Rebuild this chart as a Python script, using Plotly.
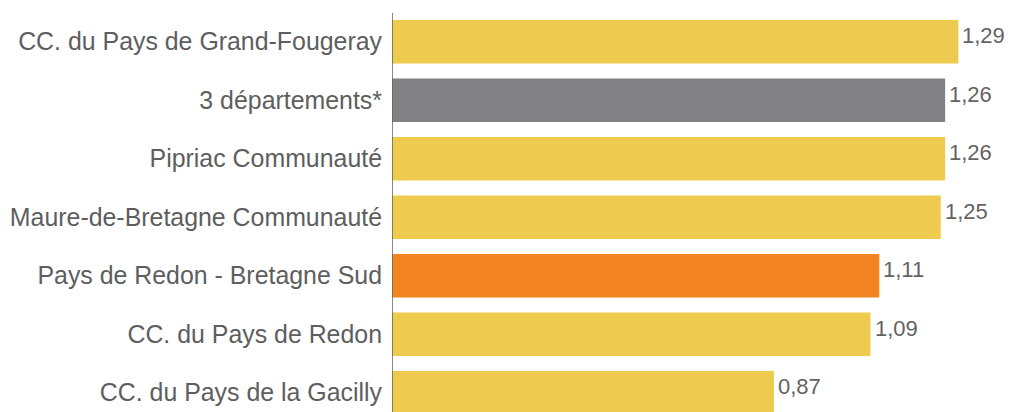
import plotly.graph_objects as go

categories = [
    "CC. du Pays de Grand-Fougeray",
    "3 départements*",
    "Pipriac Communauté",
    "Maure-de-Bretagne Communauté",
    "Pays de Redon - Bretagne Sud",
    "CC. du Pays de Redon",
    "CC. du Pays de la Gacilly",
]
values = [1.29, 1.26, 1.26, 1.25, 1.11, 1.09, 0.87]
value_labels = ["1,29", "1,26", "1,26", "1,25", "1,11", "1,09", "0,87"]
colors = ["#EECB4E", "#818184", "#EECB4E", "#EECB4E", "#F28522", "#EECB4E", "#EECB4E"]

FONT = "Liberation Sans, Arial, sans-serif"

# page body adds an 8px offset; size the figure for the visible window
OFF = 8
W, H = 1012 - OFF, 412 - OFF
PX_PER_UNIT = 439
CAT_STEP = 58.5
FIRST_CENTER = 41.75 - OFF

fig = go.Figure()
fig.add_trace(go.Bar(
    x=values, y=categories, orientation="h",
    marker=dict(color=colors, line=dict(width=0)),
    hoverinfo="skip",
))

for c, v, t in zip(categories, values, value_labels):
    fig.add_annotation(
        x=v, y=c, text=t, showarrow=False, xanchor="left", yanchor="middle",
        xshift=2, yshift=6, font=dict(family=FONT, size=22, color="#636363"),
    )

fig.add_shape(type="line", xref="x", yref="paper", x0=0, x1=0, y0=0, y1=(H - (13 - OFF)) / H,
              line=dict(color="#606060", width=1.5))

plot_w = W - (392 - OFF)
top = -FIRST_CENTER / CAT_STEP
bottom = (H - FIRST_CENTER) / CAT_STEP

fig.update_layout(
    width=W, height=H,
    margin=dict(l=392 - OFF, r=0, t=0, b=0),
    plot_bgcolor="white", paper_bgcolor="white",
    bargap=0.256,
    showlegend=False,
    xaxis=dict(range=[0, plot_w / PX_PER_UNIT], visible=False, fixedrange=True),
    yaxis=dict(
        type="category", categoryorder="array", categoryarray=categories,
        range=[bottom, top], showgrid=False, showline=False, ticks="",
        ticklabelstandoff=9,
        tickfont=dict(family=FONT, size=24.9, color="#5E5E5E"),
        fixedrange=True,
    ),
)

fig.write_html("out.html")
